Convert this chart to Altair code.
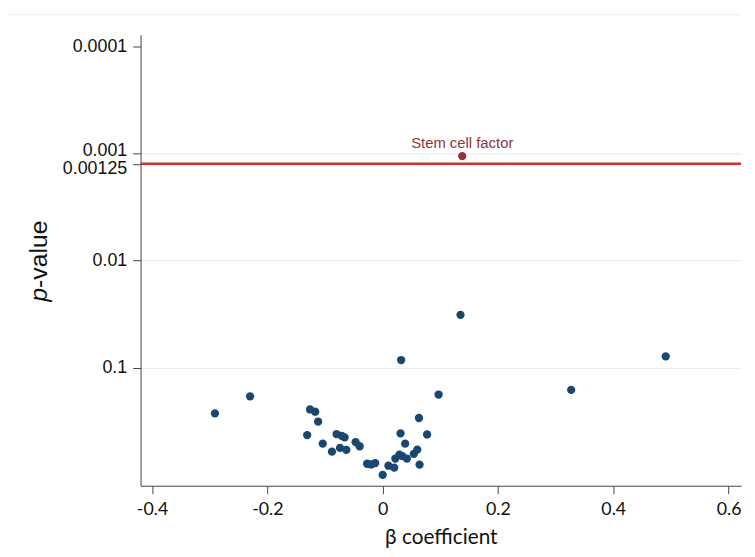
import altair as alt
import pandas as pd

# beta coefficients and p-values of the tested proteins
beta = [-0.291, -0.230, -0.126, -0.117, -0.112, -0.131, -0.104, -0.088, -0.080, -0.071,
        -0.066, -0.074, -0.063, -0.047, -0.040, -0.027, -0.020, -0.013, 0.000, 0.010,
        0.020, 0.022, 0.029, 0.031, 0.039, 0.042, 0.034, 0.054, 0.060, 0.063,
        0.064, 0.077, 0.097, 0.327, 0.491, 0.135, 0.032]
pval = [0.265, 0.184, 0.244, 0.256, 0.316, 0.423, 0.508, 0.603, 0.414, 0.430,
        0.444, 0.557, 0.581, 0.491, 0.537, 0.782, 0.794, 0.771, 0.993, 0.816,
        0.851, 0.699, 0.642, 0.408, 0.508, 0.699, 0.664, 0.632, 0.577, 0.293,
        0.798, 0.417, 0.177, 0.160, 0.078, 0.032, 0.0844]

sig_label = ["Stem cell factor"]
sig_beta = [0.138]
sig_p = [0.00106]

threshold = [0.00125]

x_ticks = [-0.4, -0.2, 0, 0.2, 0.4, 0.6]
y_ticks = [0.0001, 0.001, 0.00125, 0.01, 0.1]
x_domain = [-0.42, 0.6217]
y_domain = [7.82e-5, 1.254]

pts = pd.DataFrame({"beta": beta, "p": pval})
sig = pd.DataFrame({"beta": sig_beta, "p": sig_p, "label": sig_label})
thr = pd.DataFrame({"p": threshold})

NAVY = "#1a476f"
MAROON = "#90353b"

xs = alt.Scale(domain=x_domain, nice=False, zero=False)
ys = alt.Scale(type="log", domain=y_domain, reverse=True, nice=False)

x_axis = alt.Axis(
    values=x_ticks, labelExpr="toString(datum.value)", title="β coefficient",
    grid=False, labelFont="Lato", labelFontSize=18, labelColor="#111111",
    labelPadding=7, tickSize=8, tickColor="#444444", domainColor="#444444",
    titleFont="Lato", titleFontSize=21, titleFontWeight="normal", titleColor="#111111",
    titlePadding=8, labelFlush=False, labelOverlap=False,
)
y_axis = alt.Axis(
    values=y_ticks, labelExpr="toString(datum.value)", title=None,
    grid=True, gridColor="#e6eef2", gridWidth=1.2, labelOverlap=False,
    gridOpacity={"condition": {"test": "datum.value < 0.0002 || (datum.value > 0.0011 && datum.value < 0.002)", "value": 0}, "value": 1},
    labelOffset={"condition": [
        {"test": "datum.value > 0.0011 && datum.value < 0.002", "value": 5},
        {"test": "datum.value > 0.0009 && datum.value < 0.0011", "value": -3}], "value": 0},
    labelFont="Liberation Sans", labelFontSize=18, labelColor="#111111",
    labelPadding=6, tickSize=8, tickColor="#444444", domainColor="#444444",
)

points = alt.Chart(pts).mark_circle(size=70, color=NAVY, opacity=1).encode(
    x=alt.X("beta:Q", scale=xs, axis=x_axis),
    y=alt.Y("p:Q", scale=ys, axis=y_axis),
)

rule = alt.Chart(thr).mark_rule(color="#d0312d", strokeWidth=2.5).encode(
    y=alt.Y("p:Q", scale=ys),
)

sig_pt = alt.Chart(sig).mark_circle(size=70, color=MAROON, opacity=1).encode(
    x=alt.X("beta:Q", scale=xs),
    y=alt.Y("p:Q", scale=ys),
)

sig_txt = alt.Chart(sig).mark_text(
    color=MAROON, font="Liberation Sans", fontSize=15, baseline="alphabetic",
    align="center", dy=-8,
).encode(
    x=alt.X("beta:Q", scale=xs),
    y=alt.Y("p:Q", scale=ys),
    text="label:N",
)

title_p = alt.Chart(pd.DataFrame({"t": ["p"]})).mark_text(
    font="Liberation Sans", fontSize=25, fontStyle="italic", angle=270,
    align="right", baseline="middle", color="#111111",
).encode(text="t:N", x=alt.value(-103), y=alt.value(256))

title_rest = alt.Chart(pd.DataFrame({"t": ["-value"]})).mark_text(
    font="Liberation Sans", fontSize=25, angle=270,
    align="left", baseline="middle", color="#111111",
).encode(text="t:N", x=alt.value(-103), y=alt.value(256))

top_line = alt.Chart(pd.DataFrame({"t": [0]})).mark_rule(color="#ececec", strokeWidth=1).encode(
    x=alt.value(-134), x2=alt.value(608), y=alt.value(-20),
)

chart = alt.layer(top_line, points, rule, sig_pt, sig_txt, title_p, title_rest).properties(
    width=607, height=456,
    autosize=alt.AutoSizeParams(type="none"),
    padding={"left": 134, "top": 24, "right": 6, "bottom": 60},
    background="white",
).configure_view(strokeWidth=0)

chart.save("out.html", embed_options={"renderer": "svg", "actions": False})
